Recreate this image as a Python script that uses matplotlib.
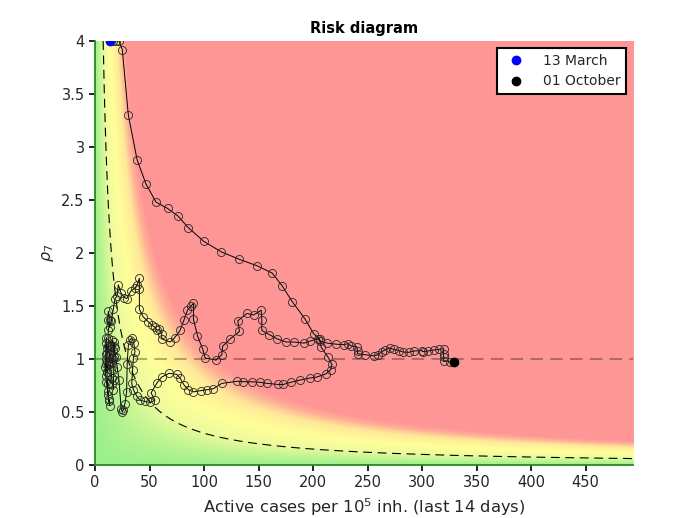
import matplotlib
matplotlib.use("Agg")
import matplotlib.pyplot as plt
import numpy as np
from matplotlib.colors import LinearSegmentedColormap

# Trajectory: active cases per 1e5 (last 14 days) and rho_7
cases = [13.8, 16.8, 18.9, 22.0, 25.0, 30.6, 38.6, 46.8, 56.0, 66.6, 76.0, 85.5, 99.8, 116.0,
         132.5, 148.6, 162.6, 171.7, 181.0, 192.5, 200.5, 206.0, 207.5, 213.6, 217.3, 216.3,
         211.8, 203.5, 196.8, 187.6, 179.4, 172.9, 168.0, 158.2, 151.5, 143.8, 136.2, 130.0,
         116.3, 108.6, 102.5, 97.0, 90.3, 85.7, 81.7, 78.0, 75.0, 68.0, 61.2, 56.6, 51.4, 55.0,
         50.5, 45.9, 41.3, 38.3, 35.2, 33.7, 34.5, 35.2, 36.7, 35.5, 33.7, 32.0, 30.6, 29.5,
         29.0, 27.5, 25.8, 25.0, 24.0, 22.0, 20.5, 19.0, 17.5, 16.0, 14.5, 13.0, 12.0, 11.0,
         10.2, 9.8, 10.0, 10.5, 10.8, 10.2, 9.5, 9.8, 10.5, 11.5, 12.5, 13.5, 13.0, 12.2, 11.5,
         11.0, 10.8, 11.2, 12.0, 13.0, 13.8, 14.5, 15.3, 16.0, 16.8, 17.0, 16.8, 16.5, 16.8,
         17.5, 18.0, 17.2, 15.8, 14.6, 13.5, 12.6, 12.0, 12.2, 13.8, 12.2, 11.6, 13.5, 15.0,
         16.8, 18.4, 19.9, 21.4, 24.0, 27.0, 29.1, 32.8, 36.7, 38.5, 40.7, 40.7, 40.7, 44.0,
         49.0, 52.0, 55.0, 57.0, 59.0, 61.2, 61.2, 68.9, 73.0, 78.0, 81.7, 84.8, 88.0, 90.3,
         90.3, 94.0, 98.9, 101.0, 111.0, 116.3, 117.0, 124.0, 132.5, 131.0, 139.3, 145.4, 152.4,
         153.0, 153.0, 160.0, 167.0, 175.4, 182.7, 191.9, 197.4, 205.0, 206.0, 213.0, 221.0,
         228.0, 232.0, 234.7, 240.2, 240.8, 240.8, 248.0, 255.6, 259.3, 263.3, 265.7, 270.3,
         274.0, 278.6, 282.5, 287.7, 292.3, 300.0, 300.5, 305.0, 310.7, 315.3, 319.8, 319.8,
         319.8, 319.8, 325.3, 329.0]
rho = [4.00, 4.00, 4.00, 4.00, 3.92, 3.30, 2.88, 2.65, 2.48, 2.42, 2.35, 2.24, 2.11, 2.01,
       1.94, 1.88, 1.81, 1.69, 1.54, 1.38, 1.24, 1.19, 1.11, 1.02, 0.95, 0.90,
       0.86, 0.83, 0.82, 0.80, 0.78, 0.76, 0.76, 0.77, 0.78, 0.785, 0.786, 0.79,
       0.77, 0.72, 0.71, 0.70, 0.69, 0.71, 0.755, 0.82, 0.855, 0.865, 0.83, 0.77, 0.68, 0.61,
       0.59, 0.60, 0.61, 0.65, 0.71, 0.77, 0.90, 1.01, 1.07, 1.15, 1.20, 1.18, 1.13, 0.95,
       0.69, 0.58, 0.52, 0.50, 0.53, 0.80, 0.92, 1.02, 1.12, 1.18, 1.12, 1.02, 0.94, 0.88,
       0.95, 1.05, 1.15, 1.20, 1.10, 1.00, 0.92, 0.84, 0.78, 0.70, 0.62, 0.56, 0.60, 0.66, 0.76,
       0.88, 0.98, 1.06, 1.12, 1.05, 0.97, 0.90, 0.82, 0.76, 0.71, 0.80, 0.90, 1.00, 1.08,
       1.16, 1.10, 1.02, 0.96, 0.98, 1.04, 1.12, 1.20, 1.27, 1.37, 1.45, 1.37, 1.30, 1.36,
       1.47, 1.57, 1.59, 1.70, 1.62, 1.58, 1.57, 1.64, 1.67, 1.70, 1.76, 1.66, 1.47, 1.40,
       1.35, 1.32, 1.30, 1.27, 1.28, 1.24, 1.19, 1.16, 1.20, 1.27, 1.37, 1.46, 1.50, 1.525,
       1.375, 1.22, 1.09, 1.01, 0.99, 1.04, 1.12, 1.19, 1.26, 1.36, 1.43, 1.415, 1.46,
       1.37, 1.27, 1.23, 1.19, 1.16, 1.16, 1.15, 1.17, 1.19, 1.17, 1.15, 1.14,
       1.135, 1.145, 1.125, 1.115, 1.08, 1.05, 1.04, 1.03, 1.04, 1.07, 1.085, 1.105,
       1.09, 1.08, 1.066, 1.063, 1.075, 1.08, 1.07, 1.075, 1.085, 1.09, 1.097, 1.05,
       1.02, 0.985, 0.975, 0.97]

first_label = "13 March"
last_label = "01 October"
risk_line = 30  # cases * rho for the dashed reference curve

cases = np.array(cases)
rho = np.array(rho)
xmax = 1.5 * cases.max()
ymax = 4

fig = plt.figure(figsize=(6.96, 5.18), dpi=100)
ax = fig.add_axes([0.1365, 0.1023, 0.773, 0.8185])

# Background: colour by cases*rho (scaled so 110 reaches full red)
cmap = LinearSegmentedColormap.from_list("risk", [
    (0.0, "#9cf08c"), (0.3, "#f0fb9c"), (0.5, "#ffff99"),
    (0.73, "#ffe898"), (0.88, "#ffb097"), (1.0, "#ff9696")])
gx = np.linspace(0, xmax, 700)
gy = np.linspace(0, ymax, 500)
X, Y = np.meshgrid(gx, gy)
ax.imshow(np.clip(X * Y / 110, 0, 1), extent=[0, xmax, 0, ymax], origin="lower",
          aspect="auto", cmap=cmap, vmin=0, vmax=1, interpolation="bilinear", zorder=0)

# Reference lines
xc = np.linspace(risk_line / ymax, xmax, 500)
ax.plot(xc, risk_line / xc, color="k", lw=0.8, linestyle=(0, (8, 5)), zorder=1)
ax.axhline(1, color="k", alpha=0.3, lw=1.5, linestyle=(0, (6, 3.5)), zorder=1)

# Trajectory
ax.plot(cases, rho, "-", color="k", lw=0.7, marker="o", ms=5.8, mfc="none",
        mec=(0.15, 0.15, 0.15), mew=0.6, zorder=2)
ax.plot(cases[0], rho[0], "o", color="blue", ms=6, label=first_label, zorder=3)
ax.plot(cases[-1], rho[-1], "o", color="k", ms=6, label=last_label, zorder=3)

ax.set_xlim(0, xmax)
ax.set_ylim(0, ymax)
ax.set_xticks(np.arange(0, 451, 50))
ax.set_yticks(np.arange(0, 4.01, 0.5))
ax.set_yticklabels(["0", "0.5", "1", "1.5", "2", "2.5", "3", "3.5", "4"])

txt = "#262626"
ax.tick_params(axis="both", labelsize=10.5, colors=txt, length=4, width=1.4, direction="out")
for s in ["top", "right"]:
    ax.spines[s].set_visible(False)
for s in ["left", "bottom"]:
    ax.spines[s].set_color("#228b22")
    ax.spines[s].set_linewidth(1.3)

ax.set_title("Risk diagram", fontsize=10.5, fontweight="bold", color="k")
ax.set_xlabel("Active cases per $10^5$ inh. (last 14 days)", fontsize=11.8, color=txt)
ax.set_ylabel(r"$\rho_7$", fontsize=11.5, color=txt)

leg = ax.legend(loc="upper right", fancybox=False, framealpha=1, edgecolor="k",
                fontsize=10, handletextpad=0.9)
leg.get_frame().set_linewidth(1.5)
for t in leg.get_texts():
    t.set_color(txt)

fig.savefig("out.png", dpi=100)
